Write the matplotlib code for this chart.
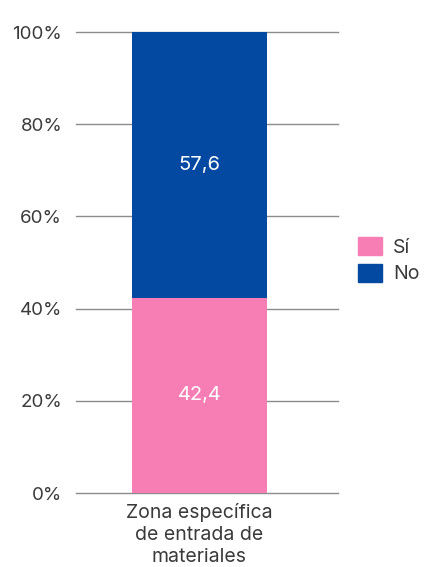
import matplotlib
matplotlib.use("Agg")
import matplotlib.pyplot as plt
from matplotlib.patches import Patch

categories = ["Zona específica\nde entrada de\nmateriales"]
si_values = [42.4]
no_values = [57.6]
series_names = ["Sí", "No"]
colors = ["#F77EB4", "#0349A2"]
yticks = [0, 20, 40, 60, 80, 100]

plt.rcParams['font.family'] = ['Inter', 'DejaVu Sans']
text_color = "#3a3a3a"

fig = plt.figure(figsize=(4.30, 5.67), dpi=100)
ax = fig.add_axes([0.177, 0.1305, 0.609, 0.813])

x = list(range(len(categories)))
b1 = ax.bar(x, si_values, width=0.515, color=colors[0], zorder=3)
b2 = ax.bar(x, no_values, bottom=si_values, width=0.515, color=colors[1], zorder=3)

for xi, v in zip(x, si_values):
    ax.text(xi, v / 2, f"{v:.1f}".replace(".", ","), ha="center", va="center",
            color="white", fontsize=14.5, zorder=4)
for xi, s, v in zip(x, si_values, no_values):
    ax.text(xi, s + v / 2, f"{v:.1f}".replace(".", ","), ha="center", va="center",
            color="white", fontsize=14.5, zorder=4)

ax.set_xlim(-0.471, 0.529)
ax.set_ylim(0, 100)
ax.set_yticks(yticks)
ax.set_yticklabels([f"{t}%" for t in yticks])
ax.set_xticks(x)
ax.set_xticklabels(categories, linespacing=1.3)
ax.tick_params(axis="both", length=0, colors=text_color)
ax.tick_params(axis="y", pad=10, labelsize=13.5)
ax.tick_params(axis="x", pad=7, labelsize=14)
ax.yaxis.grid(True, color="#8c8c8c", linewidth=1, zorder=0)
for gl in ax.get_ygridlines():
    gl.set_clip_on(False)
for sp in ax.spines.values():
    sp.set_visible(False)

handles = [Patch(color=c, label=n) for c, n in zip(colors, series_names)]
leg = fig.legend(handles=handles, loc="center left", bbox_to_anchor=(0.815, 0.541),
                 frameon=False, fontsize=14, handlelength=1.2, handleheight=1.05,
                 handletextpad=0.6, labelspacing=0.35, borderaxespad=0)
for t in leg.get_texts():
    t.set_color(text_color)

fig.savefig("out.png", dpi=100)
